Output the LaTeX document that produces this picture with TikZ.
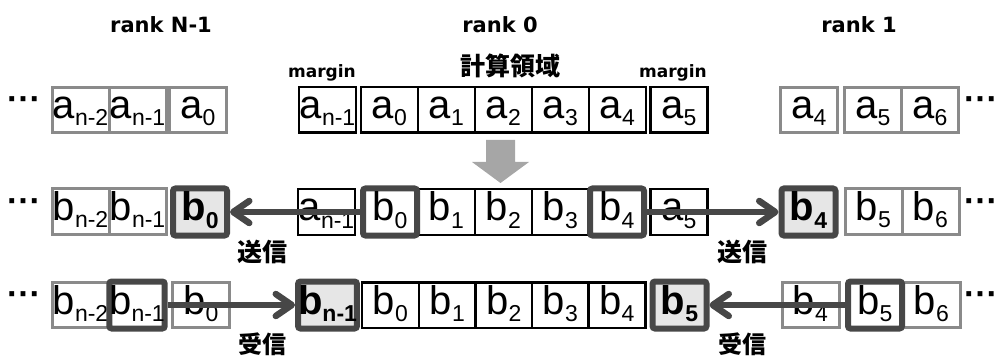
\documentclass[tikz,border=0pt]{standalone}
\usepackage{fontspec}
\setmainfont{Liberation Sans}
\newfontfamily\jp{Noto Sans CJK JP}
\newfontfamily\dv{DejaVu Sans Bold}
\usetikzlibrary{arrows.meta}
\definecolor{gcol}{HTML}{8A8A8A}
\definecolor{dcol}{HTML}{474747}
\definecolor{hfillc}{HTML}{E6E6E6}
\definecolor{acol}{HTML}{A6A6A6}
\newcommand\sbx[1]{\raisebox{-7pt}{\fontsize{23}{23}\selectfont #1}}
\tikzset{
  cellbase/.style={minimum width=57pt, minimum height=45.5pt, inner sep=0pt,
    text height=26pt, text depth=8pt, font=\fontsize{40}{40}\selectfont},
  cell/.style={cellbase, draw=black, line width=2.5pt, fill=white},
  gcell/.style={cellbase, draw=gcol, line width=3pt, fill=white},
  hcell/.style={cellbase, minimum width=54pt, minimum height=47pt, draw=dcol,
    line width=6pt, rounded corners=2.5pt, fill=white},
  hfcell/.style={hcell, fill=hfillc, font=\fontsize{40}{40}\selectfont\bfseries},
  arr/.style={draw=dcol, line width=6.5pt, -{Straight Barb[length=16pt,width=22pt,round]}},
  lab/.style={font=\fontsize{21}{21}\selectfont\dv, inner sep=0pt},
  mlab/.style={font=\fontsize{17}{17}\selectfont\dv, inner sep=0pt},
  jlab/.style={font=\fontsize{25}{25}\selectfont\jp\bfseries, inner sep=0pt},
  dotsn/.style={font=\fontsize{34}{34}\selectfont\bfseries, inner sep=0pt}
}
\begin{document}
\begin{tikzpicture}[x=1pt,y=-1pt]
\useasboundingbox (0,0) rectangle (998,358);
% labels
\node[lab] (rN) at (161,25) {rank N-1};
\node[lab] (r0) at (500,25) {rank 0};
\node[lab] (r1) at (859,25) {rank 1};
\node[mlab] (mL) at (322,73) {margin};
\node[mlab] (mR) at (673,73) {margin};
\node[jlab] (calc) at (510,66) {計算領域};
% row 1
\node[dotsn] (d1l) at (24,104) {···};
\node[gcell] (l1a) at (80.5,110) {a\sbx{n-2}};
\node[gcell] (l1b) at (137.5,110) {a\sbx{n-1}};
\node[gcell] (l1c) at (198,110) {a\sbx{0}};
\node[cell] (c1m) at (327.5,110) {a\sbx{n-1}};
\node[cell] (c1a) at (389.5,110) {a\sbx{0}};
\node[cell] (c1b) at (446.5,110) {a\sbx{1}};
\node[cell] (c1c) at (503.5,110) {a\sbx{2}};
\node[cell] (c1d) at (560.5,110) {a\sbx{3}};
\node[cell] (c1e) at (617.5,110) {a\sbx{4}};
\node[cell] (c1p) at (679,110) {a\sbx{5}};
\node[gcell] (r1a) at (809,110) {a\sbx{4}};
\node[gcell] (r1b) at (873,110) {a\sbx{5}};
\node[gcell] (r1c) at (930,110) {a\sbx{6}};
\node[dotsn] (d1r) at (981,104) {···};
% down arrow
\fill[acol] (486,140) -- (515,140) -- (515,162) -- (529,162) -- (500.5,183) -- (472,162) -- (486,162) -- cycle;
% row 2
\node[dotsn] (d2l) at (24,206) {···};
\node[gcell] (l2a) at (80.5,211.5) {b\sbx{n-2}};
\node[gcell] (l2b) at (137.5,211.5) {b\sbx{n-1}};
\node[hfcell] (l2c) at (200,212) {b\sbx{0}};
\node[cell] (c2m) at (326.5,212) {a\sbx{n-1}};
\node[cell] (c2b) at (446.5,212) {b\sbx{1}};
\node[cell] (c2c) at (503.5,212) {b\sbx{2}};
\node[cell] (c2d) at (560.5,212) {b\sbx{3}};
\node[cell] (c2p) at (679,212) {a\sbx{5}};
\node[hcell] (c2a) at (390,212) {b\sbx{0}};
\node[hcell] (c2e) at (617,212) {b\sbx{4}};
\node[hfcell] (r2a) at (808.5,212) {b\sbx{4}};
\node[gcell] (r2b) at (873.5,211.5) {b\sbx{5}};
\node[gcell] (r2c) at (930.5,211.5) {b\sbx{6}};
\node[dotsn] (d2r) at (981,206) {···};
\draw[arr] (c2a.west) -- (l2c.east);
\draw[arr] (c2e.east) -- (r2a.west);
\node[jlab] (s1) at (262,252) {送信};
\node[jlab] (s2) at (742,252) {送信};
% row 3
\node[dotsn] (d3l) at (24,299) {···};
\node[gcell] (l3a) at (80.5,305) {b\sbx{n-2}};
\node[gcell] (l3c) at (201,305) {b\sbx{0}};
\node[hcell] (l3b) at (137,305) {b\sbx{n-1}};
\node[hfcell] (c3m) at (327.5,305) {b\sbx{n-1}};
\node[cell] (c3a) at (390.5,305) {b\sbx{0}};
\node[cell] (c3b) at (447.5,305) {b\sbx{1}};
\node[cell] (c3c) at (504,305) {b\sbx{2}};
\node[cell] (c3d) at (560.5,305) {b\sbx{3}};
\node[cell] (c3e) at (617,305) {b\sbx{4}};
\node[hfcell] (c3p) at (679.5,305) {b\sbx{5}};
\node[gcell] (r3a) at (810.5,305) {b\sbx{4}};
\node[gcell] (r3c) at (931.5,305) {b\sbx{6}};
\node[hcell] (r3b) at (875,305) {b\sbx{5}};
\node[dotsn] (d3r) at (981,299) {···};
\draw[arr] (l3b.east) -- (c3m.west);
\draw[arr] (r3b.west) -- (c3p.east);
\node[jlab, font=\fontsize{24}{24}\selectfont\jp\bfseries] (u1) at (262,344) {受信};
\node[jlab, font=\fontsize{24}{24}\selectfont\jp\bfseries] (u2) at (742,344) {受信};
\end{tikzpicture}
\end{document}
